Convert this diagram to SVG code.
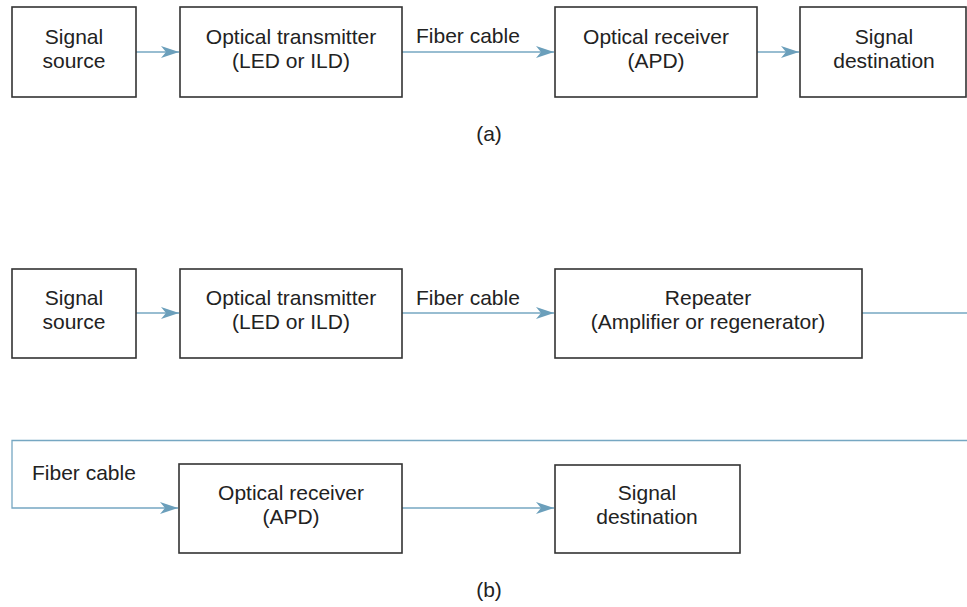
<svg xmlns="http://www.w3.org/2000/svg" width="967" height="607" viewBox="0 0 967 607">
<style>
.box{fill:#fff;stroke:#333;stroke-width:1.6}
.t{font-family:"Liberation Sans",Arial,sans-serif;font-size:21px;fill:#222;text-anchor:middle}
.l{font-family:"Liberation Sans",Arial,sans-serif;font-size:21px;fill:#222}
.c{fill:none;stroke:#76a7c2;stroke-width:1.3}
</style>
<defs>
<marker id="ah" markerUnits="userSpaceOnUse" markerWidth="20" markerHeight="12" refX="18" refY="6" orient="auto">
<path d="M0,0 L18,6 L0,12 L5,6 Z" fill="#6b9fbb"/>
</marker>
</defs>
<rect width="967" height="607" fill="#fff"/>
<g id="connectors">
<line class="c" x1="136" y1="52" x2="179" y2="52" marker-end="url(#ah)"/>
<line class="c" x1="402" y1="52" x2="554" y2="52" marker-end="url(#ah)"/>
<line class="c" x1="757" y1="52" x2="799" y2="52" marker-end="url(#ah)"/>
<line class="c" x1="136" y1="313" x2="179" y2="313" marker-end="url(#ah)"/>
<line class="c" x1="402" y1="313" x2="554" y2="313" marker-end="url(#ah)"/>
<line class="c" x1="862" y1="313" x2="967" y2="313"/>
<polyline class="c" points="967,440.5 12,440.5 12,508 178,508" marker-end="url(#ah)"/>
<line class="c" x1="402" y1="508" x2="554" y2="508" marker-end="url(#ah)"/>
<text class="l" x="416" y="43">Fiber cable</text>
<text class="l" x="416" y="305">Fiber cable</text>
<text class="l" x="32" y="480">Fiber cable</text>
</g>
<g id="a-source"><rect class="box" x="12" y="7" width="124" height="90"/><text class="t" x="74" y="44">Signal</text><text class="t" x="74" y="68">source</text></g>
<g id="a-transmitter"><rect class="box" x="180" y="7" width="222" height="90"/><text class="t" x="291" y="44">Optical transmitter</text><text class="t" x="291" y="68">(LED or ILD)</text></g>
<g id="a-receiver"><rect class="box" x="555" y="7" width="202" height="90"/><text class="t" x="656" y="44">Optical receiver</text><text class="t" x="656" y="68">(APD)</text></g>
<g id="a-destination"><rect class="box" x="800" y="7" width="166" height="90"/><text class="t" x="884" y="44">Signal</text><text class="t" x="884" y="68">destination</text></g>
<text class="t" x="489" y="141">(a)</text>
<g id="b-source"><rect class="box" x="12" y="269" width="124" height="89"/><text class="t" x="74" y="305">Signal</text><text class="t" x="74" y="329">source</text></g>
<g id="b-transmitter"><rect class="box" x="180" y="269" width="222" height="89"/><text class="t" x="291" y="305">Optical transmitter</text><text class="t" x="291" y="329">(LED or ILD)</text></g>
<g id="b-repeater"><rect class="box" x="555" y="269" width="307" height="89"/><text class="t" x="708" y="305">Repeater</text><text class="t" x="708" y="329">(Amplifier or regenerator)</text></g>
<g id="b-receiver"><rect class="box" x="179" y="464" width="223" height="89"/><text class="t" x="291" y="500">Optical receiver</text><text class="t" x="291" y="524">(APD)</text></g>
<g id="b-destination"><rect class="box" x="555" y="465" width="185" height="88"/><text class="t" x="647" y="500">Signal</text><text class="t" x="647" y="524">destination</text></g>
<text class="t" x="489" y="597">(b)</text>
</svg>
